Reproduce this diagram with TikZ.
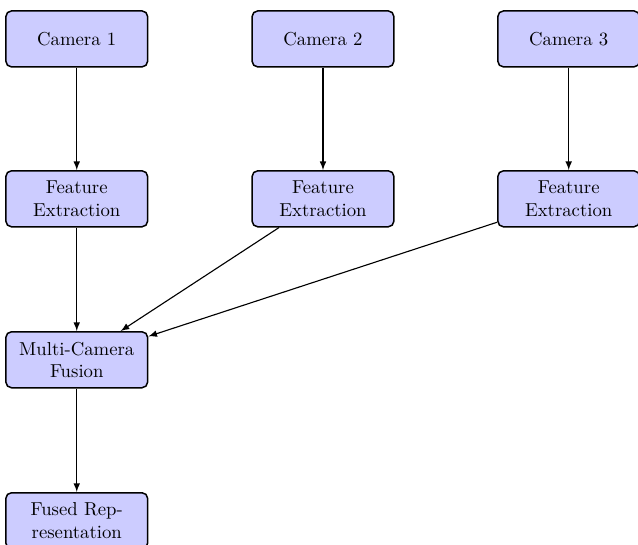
\documentclass[tikz,border=0pt]{standalone}
\usetikzlibrary{arrows}
\tikzset{
  block/.style={draw, thick, rounded corners=3pt, fill=blue!20, align=center,
    text width=2.2cm, minimum width=2.66cm, minimum height=1.05cm, inner sep=2pt},
  link/.style={->, >=latex, semithick}
}
\begin{document}
\begin{tikzpicture}
\useasboundingbox (0,0) rectangle (11.97,-10.22);
\node[block] (cam1) at (1.44,-0.73) {Camera 1};
\node[block] (cam2) at (6.06,-0.73) {Camera 2};
\node[block] (cam3) at (10.67,-0.73) {Camera 3};
\node[block] (feat1) at (1.44,-3.73) {Feature Extraction};
\node[block] (feat2) at (6.06,-3.73) {Feature Extraction};
\node[block] (feat3) at (10.67,-3.73) {Feature Extraction};
\node[block] (fusion) at (1.44,-6.75) {Multi-Camera Fusion};
\node[block] (fused) at (1.44,-9.77) {Fused Representation};
\draw[link] (cam1) -- (feat1);
\draw[link] (cam2) -- (feat2);
\draw[link] (cam3) -- (feat3);
\draw[link] (feat1) -- (fusion);
\draw[link] (feat2) -- (fusion);
\draw[link] (feat3) -- (fusion);
\draw[link] (fusion) -- (fused);
\end{tikzpicture}
\end{document}
